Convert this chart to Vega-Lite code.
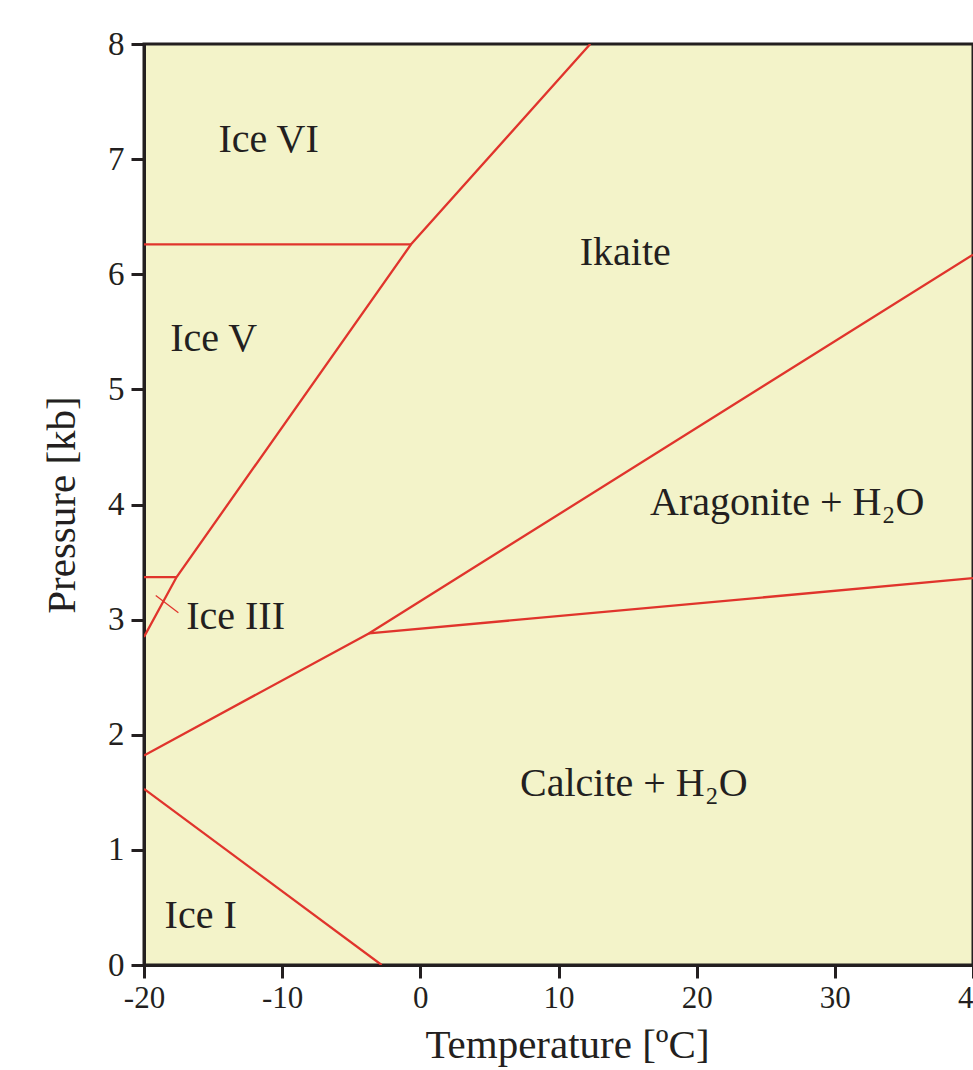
{
  "$schema": "https://vega.github.io/schema/vega-lite/v6.json",
  "autosize": {"type": "none"},
  "padding": {"left": 144, "top": 44, "right": 0, "bottom": 105},
  "width": 829,
  "height": 921,
  "background": "#ffffff",
  "config": {
    "view": {"fill": "#F3F3C9", "stroke": "#231F20", "strokeWidth": 3},
    "font": "Liberation Serif",
    "axis": {
      "domainColor": "#231F20", "domainWidth": 3,
      "tickColor": "#231F20", "tickWidth": 3, "tickSize": 13,
      "labelFont": "Liberation Serif", "labelFontSize": 31, "labelColor": "#231F20",
      "titleFont": "Liberation Serif", "titleFontSize": 41, "titleFontWeight": "normal", "titleColor": "#231F20",
      "grid": false
    }
  },
  "datasets": {
    "lines": [
      {"seg": "iceI", "T": -20, "P": 1.53},
      {"seg": "iceI", "T": -2.8, "P": 0},
      {"seg": "lower", "T": -20, "P": 1.82},
      {"seg": "lower", "T": -3.73, "P": 2.88},
      {"seg": "lower", "T": 40, "P": 6.17},
      {"seg": "calc", "T": -3.73, "P": 2.88},
      {"seg": "calc", "T": 40, "P": 3.36},
      {"seg": "ice", "T": -20, "P": 2.85},
      {"seg": "ice", "T": -17.64, "P": 3.37},
      {"seg": "ice", "T": -0.67, "P": 6.26},
      {"seg": "ice", "T": 12.3, "P": 8},
      {"seg": "vi", "T": -20, "P": 6.26},
      {"seg": "vi", "T": -0.67, "P": 6.26},
      {"seg": "iii", "T": -20, "P": 3.37},
      {"seg": "iii", "T": -17.64, "P": 3.37}
    ],
    "leader": [
      {"T": -19.15, "P": 3.21},
      {"T": -17.51, "P": 3.06}
    ],
    "labels": [
      {"label": "Ice VI", "T": -10.98, "P": 7.06},
      {"label": "Ikaite", "T": 14.83, "P": 6.08},
      {"label": "Ice V", "T": -14.96, "P": 5.33},
      {"label": "Aragonite + H₂O", "T": 26.55, "P": 3.91},
      {"label": "Ice III", "T": -13.37, "P": 2.92},
      {"label": "Calcite + H₂O", "T": 15.45, "P": 1.47},
      {"label": "Ice I", "T": -15.9, "P": 0.32}
    ]
  },
  "encoding": {
    "x": {"field": "T", "type": "quantitative",
      "scale": {"domain": [-20, 40], "nice": false, "zero": false},
      "axis": {"title": "Temperature [ºC]", "values": [-20, -10, 0, 10, 20, 30, 40],
        "labelExpr": "datum.value < 0 ? '-' + abs(datum.value) : '' + datum.value",
        "labelPadding": 5, "titlePadding": 12, "titleX": 423, "labelFlush": false}},
    "y": {"field": "P", "type": "quantitative",
      "scale": {"domain": [0, 8], "nice": false},
      "axis": {"title": "Pressure [kb]", "values": [0, 1, 2, 3, 4, 5, 6, 7, 8],
        "labelFontSize": 33, "labelPadding": 7, "titlePadding": 24, "labelFlush": false}}
  },
  "layer": [
    {
      "data": {"name": "lines"},
      "mark": {"type": "line", "color": "#E0342C", "strokeWidth": 2.3, "clip": true},
      "encoding": {"detail": {"field": "seg"}, "order": {"field": "T"}}
    },
    {
      "data": {"name": "leader"},
      "mark": {"type": "line", "color": "#E0342C", "strokeWidth": 1.2},
      "encoding": {}
    },
    {
      "data": {"name": "labels"},
      "mark": {"type": "text", "font": "Liberation Serif", "fontSize": 40, "color": "#231F20", "align": "center", "baseline": "alphabetic"},
      "encoding": {"text": {"field": "label"}}
    }
  ]
}
